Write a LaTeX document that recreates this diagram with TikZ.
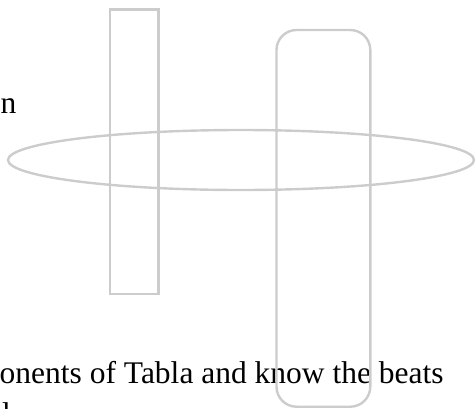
\documentclass[tikz,border=0pt]{standalone}
\usepackage{fontspec}
\setmainfont{Liberation Serif}
\usepackage{xcolor}
\definecolor{shapegray}{HTML}{CCCCCC}

\begin{document}
\begin{tikzpicture}[x=1pt, y=-1pt,
    every node/.style={font=\fontsize{31.5}{36}\selectfont, inner sep=0pt},
    outline/.style={draw=shapegray, line width=2.4pt}]
  \useasboundingbox (0,0) rectangle (475,408);
  \node[anchor=base west] (wordtail) at (0.5,113.5) {n};
  \node[anchor=base west] (caption) at (-0.5,383) {onents of Tabla and know the beats};
  \node[anchor=base west] (nextline) at (-6,424) {d};
  \draw[outline] (241,160) ellipse [x radius=233, y radius=30];
  \draw[outline] (110,9.5) rectangle (158.5,294);
  \draw[outline, rounded corners=20pt] (276.5,30) rectangle (370.3,406.7);
\end{tikzpicture}
\end{document}
